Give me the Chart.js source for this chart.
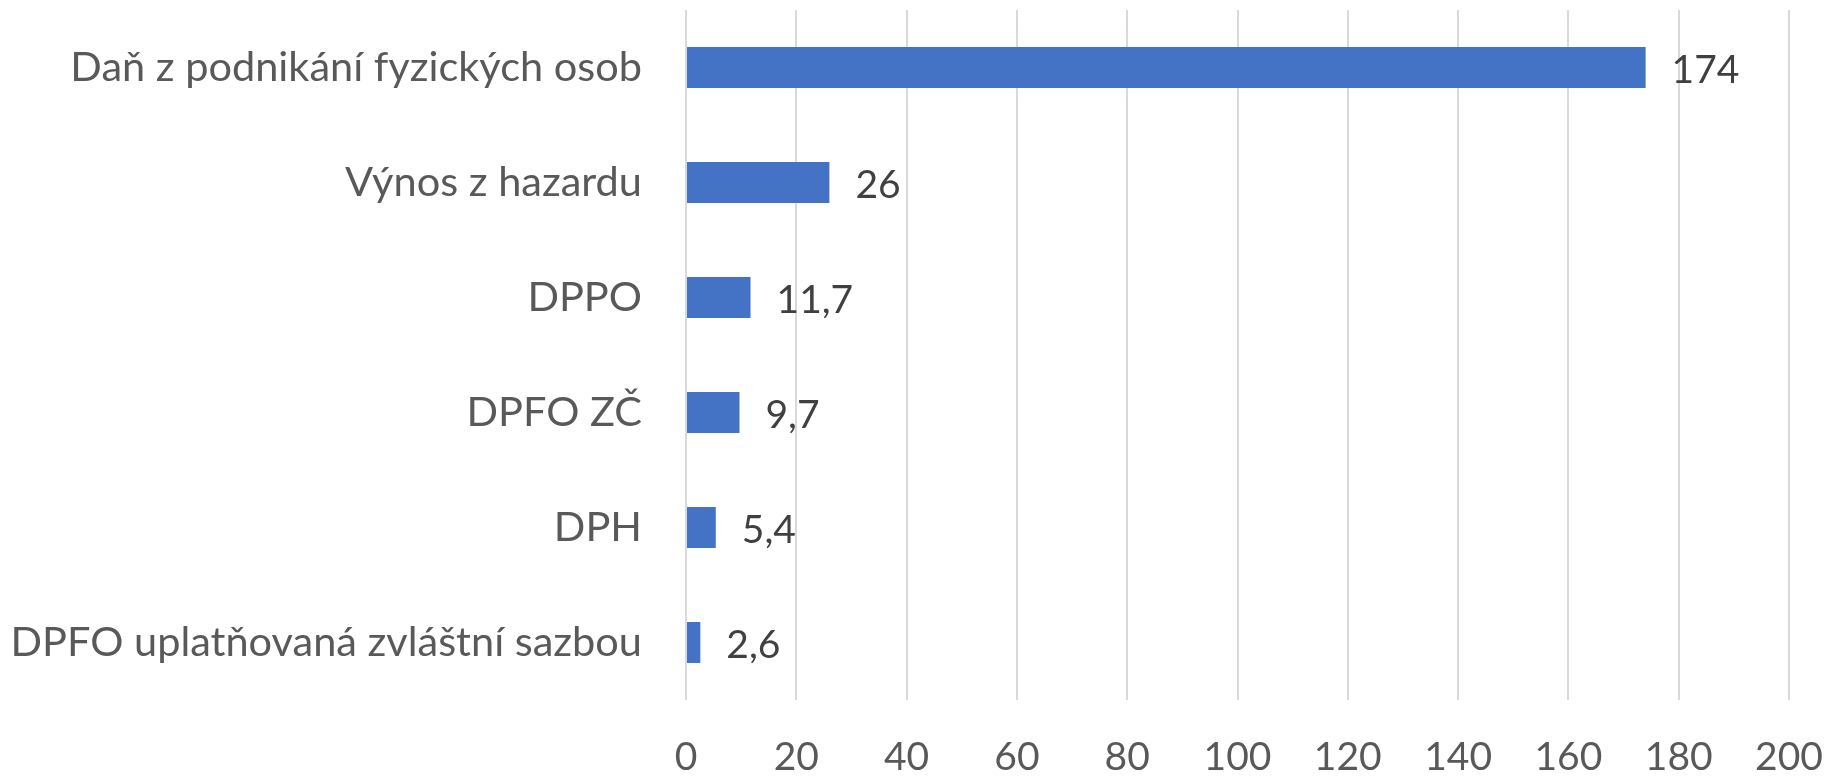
<!DOCTYPE html>
<html>
<head>
<meta charset="utf-8">
<script src="https://cdn.jsdelivr.net/npm/chart.js@4"></script>
<style>
  html, body { margin: 0; padding: 0; background: #fff; }
  #wrap { width: 1831px; height: 783px; }
</style>
</head>
<body>
<div id="wrap"><canvas id="taxChart" width="1831" height="783"></canvas></div>
<script>
  // Categories (top to bottom) and values
  const categories = [
    'Daň z podnikání fyzických osob',
    'Výnos z hazardu',
    'DPPO',
    'DPFO ZČ',
    'DPH',
    'DPFO uplatňovaná zvláštní sazbou'
  ];
  const values = [174, 26, 11.7, 9.7, 5.4, 2.6];
  const axisMin = 0;
  const axisMax = 200;
  const axisStep = 20;

  // Draw value labels to the right of each bar
  const valueLabels = {
    id: 'valueLabels',
    afterDatasetsDraw(chart) {
      const ctx = chart.ctx;
      const meta = chart.getDatasetMeta(0);
      ctx.save();
      ctx.font = '39px Lato';
      ctx.fillStyle = '#404040';
      ctx.textAlign = 'left';
      ctx.textBaseline = 'middle';
      meta.data.forEach((bar, i) => {
        const txt = String(values[i]).replace('.', ',');
        ctx.fillText(txt, bar.x + 26, bar.y + 3);
      });
      ctx.restore();
    }
  };

  const ctx = document.getElementById('taxChart').getContext('2d');
  new Chart(ctx, {
    type: 'bar',
    data: {
      labels: categories,
      datasets: [{
        data: values,
        backgroundColor: '#4472C4',
        borderWidth: 0,
        barPercentage: 0.357,
        categoryPercentage: 1
      }]
    },
    plugins: [valueLabels],
    options: {
      indexAxis: 'y',
      responsive: false,
      animation: false,
      layout: {
        padding: { top: 10, right: 42, left: 0, bottom: 0 }
      },
      plugins: {
        legend: { display: false },
        tooltip: { enabled: false }
      },
      scales: {
        x: {
          min: axisMin,
          max: axisMax,
          ticks: {
            stepSize: axisStep,
            color: '#595959',
            font: { family: 'Lato', size: 39 },
            padding: 34
          },
          grid: { color: '#d9d9d9', lineWidth: 2, drawTicks: false },
          border: { display: false },
          afterFit(scale) {
            scale.height = 83;
            scale.paddingLeft = 0;
            scale.paddingRight = 0;
          }
        },
        y: {
          ticks: {
            color: '#595959',
            font: { family: 'Lato', size: 41.5 },
            padding: 44
          },
          grid: { display: false, drawTicks: false },
          border: { display: false },
          afterFit(scale) {
            scale.width = 686;
            scale.paddingTop = 0;
            scale.paddingBottom = 0;
          }
        }
      }
    }
  });
</script>
</body>
</html>
